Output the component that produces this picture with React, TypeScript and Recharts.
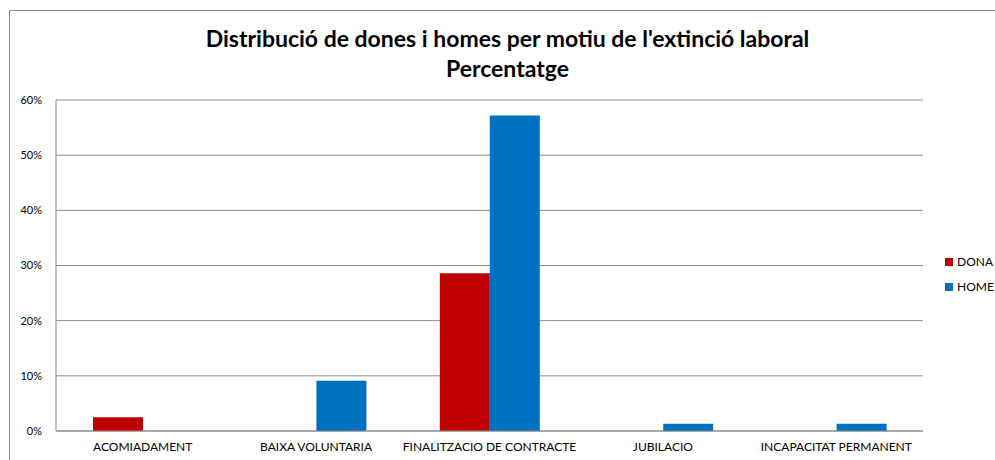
import React from "react";
import { BarChart, Bar, XAxis, YAxis, CartesianGrid } from "recharts";

const categories = ["ACOMIADAMENT", "BAIXA VOLUNTARIA", "FINALITZACIO DE CONTRACTE", "JUBILACIO", "INCAPACITAT PERMANENT"];
const dona = [2.5, 0, 28.6, 0, 0];
const home = [0, 9.1, 57.2, 1.3, 1.3];
const yTicks = [0, 10, 20, 30, 40, 50, 60];
const titleLines = ["Distribució de dones i homes per motiu de l'extinció laboral", "Percentatge"];
const seriesNames = ["DONA", "HOME"];
const seriesColors = ["#C00000", "#0070C0"];

const data = categories.map((c, i) => ({ name: c, DONA: dona[i], HOME: home[i] }));

const FONT = "Lato, 'Open Sans', sans-serif";

export default function App() {
  return (
    <div style={{ position: "absolute", left: 0, top: 0, width: 995, height: 460, background: "#fff", overflow: "hidden", fontFamily: FONT }}>
      <div style={{ position: "absolute", left: 9, top: 10, width: 1000, height: 470, borderTop: "1px solid #8c8c8c", borderLeft: "1px solid #8c8c8c" }} />
      <div style={{ position: "absolute", left: 0, top: 23, width: 1015, textAlign: "center", fontWeight: 700, fontSize: 23, lineHeight: "30px", color: "#000" }}>
        <div>{titleLines[0]}</div>
        <div>{titleLines[1]}</div>
      </div>
      <BarChart
        width={995}
        height={460}
        data={data}
        margin={{ top: 100, right: 72, left: 0, bottom: 0 }}
        barCategoryGap={37}
        barGap={0}
        style={{ position: "absolute", left: 0, top: 0 }}
      >
        <CartesianGrid vertical={false} stroke="#8c8c8c" strokeWidth={1} />
        <XAxis
          dataKey="name"
          height={29}
          tickLine={false}
          axisLine={{ stroke: "#8c8c8c" }}
          tick={{ fontSize: 12, fill: "#000", fontFamily: FONT }}
          tickMargin={5}
          interval={0}
        />
        <YAxis
          width={56}
          domain={[0, 60]}
          ticks={yTicks}
          tickFormatter={(v: number) => `${v}%`}
          tickLine={false}
          axisLine={{ stroke: "#8c8c8c" }}
          tick={{ fontSize: 11, fill: "#000", fontFamily: FONT }}
          tickMargin={8}
        />
        <Bar dataKey="DONA" fill={seriesColors[0]} isAnimationActive={false} />
        <Bar dataKey="HOME" fill={seriesColors[1]} isAnimationActive={false} />
      </BarChart>
      <div style={{ position: "absolute", left: 945, top: 249, fontSize: 12, color: "#000" }}>
        {seriesNames.map((n, i) => (
          <div key={n} style={{ display: "flex", alignItems: "center", height: 25 }}>
            <span style={{ display: "inline-block", width: 8, height: 8, background: seriesColors[i], marginRight: 4 }} />
            <span>{n}</span>
          </div>
        ))}
      </div>
    </div>
  );
}
